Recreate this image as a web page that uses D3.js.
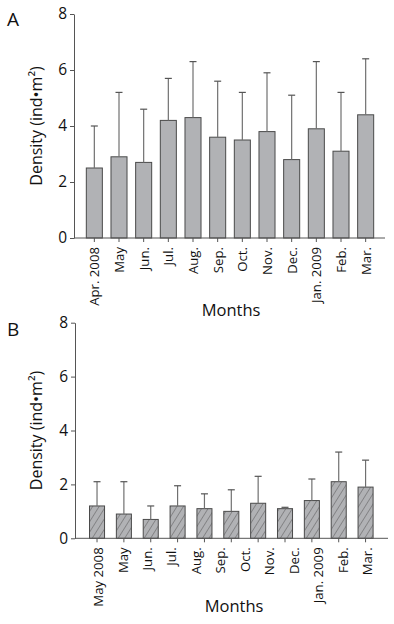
<!DOCTYPE html>
<html>
<head>
<meta charset="utf-8">
<script src="https://cdn.jsdelivr.net/npm/d3@7"></script>
<style>
  body { margin: 0; background: #fff; }
  svg text { font-family: "Open Sans", "Noto Sans", sans-serif; fill: #111; }
</style>
</head>
<body>
<svg id="chart" width="394" height="624"></svg>
<script>
'use strict';

// panel A: Apr. 2008 - Mar. 2009
const monthsA = ["Apr. 2008", "May", "Jun.", "Jul.", "Aug.", "Sep.", "Oct.", "Nov.", "Dec.", "Jan. 2009", "Feb.", "Mar."];
const meanA = [2.5, 2.9, 2.7, 4.2, 4.3, 3.6, 3.5, 3.8, 2.8, 3.9, 3.1, 4.4];
const upperA = [4.0, 5.2, 4.6, 5.7, 6.3, 5.6, 5.2, 5.9, 5.1, 6.3, 5.2, 6.4];

// panel B: 11 bars drawn under 12 month labels (as in the original figure)
const monthsB = ["May 2008", "May", "Jun.", "Jul.", "Aug.", "Sep.", "Oct.", "Nov.", "Dec.", "Jan. 2009", "Feb.", "Mar."];
const meanB = [1.2, 0.9, 0.7, 1.2, 1.1, 1.0, 1.3, 1.1, 1.4, 2.1, 1.9];
const upperB = [2.1, 2.1, 1.2, 1.95, 1.65, 1.8, 2.3, 1.15, 2.2, 3.2, 2.9];

const yTicks = [0, 2, 4, 6, 8];

(function () {
    const svg = d3.select("#chart");

    // hatch pattern for panel B
    const defs = svg.append("defs");
    const pat = defs.append("pattern")
        .attr("id", "hatch")
        .attr("patternUnits", "userSpaceOnUse")
        .attr("width", 5.5)
        .attr("height", 6)
        .attr("patternTransform", "rotate(32)");
    pat.append("rect").attr("width", 5.5).attr("height", 6).attr("fill", "#b1b2b5");
    pat.append("line")
        .attr("x1", 0).attr("y1", 0).attr("x2", 0).attr("y2", 6)
        .attr("stroke", "#5a5a5a").attr("stroke-width", 1);

    function panel(opt) {
        const g = svg.append("g");
        const y = d3.scaleLinear().domain([0, 8]).range([opt.y0, opt.y8]);
        const n = opt.mean.length;
        const x = d3.scaleBand()
            .domain(d3.range(n))
            .range([opt.x0, opt.x1])
            .paddingInner(opt.pad)
            .paddingOuter(opt.pad / 2);

        // y axis
        const yAxis = g.append("g")
            .attr("transform", `translate(${opt.axisX},0)`)
            .call(d3.axisLeft(y).tickValues(yTicks).tickSize(4).tickSizeOuter(0).tickFormat(d3.format("d")));
        yAxis.select(".domain").attr("stroke", "#555");
        yAxis.selectAll(".tick line").attr("stroke", "#555");
        yAxis.selectAll(".tick text").attr("font-size", 15.5).attr("x", -7).attr("fill", "#111");

        // bars
        g.selectAll(".bar")
            .data(opt.mean)
            .enter()
            .append("rect")
                .attr("class", "bar")
                .attr("x", (d, i) => x(i))
                .attr("y", d => y(d))
                .attr("width", x.bandwidth())
                .attr("height", d => y(0) - y(d))
                .attr("fill", opt.fill)
                .attr("stroke", "#4a4a4a")
                .attr("stroke-width", 1);

        // error bars (upper only)
        const cx = i => x(i) + x.bandwidth() / 2;
        g.selectAll(".err")
            .data(opt.upper)
            .enter()
            .append("line")
                .attr("x1", (d, i) => cx(i))
                .attr("x2", (d, i) => cx(i))
                .attr("y1", (d, i) => y(opt.mean[i]))
                .attr("y2", d => y(d))
                .attr("stroke", "#707070")
                .attr("stroke-width", 1.2);
        g.selectAll(".cap")
            .data(opt.upper)
            .enter()
            .append("line")
                .attr("x1", (d, i) => cx(i) - 3.5)
                .attr("x2", (d, i) => cx(i) + 3.5)
                .attr("y1", d => y(d))
                .attr("y2", d => y(d))
                .attr("stroke", "#555")
                .attr("stroke-width", 1.2);

        // x axis baseline
        g.append("line")
            .attr("x1", opt.axisX).attr("x2", opt.axisEnd)
            .attr("y1", y(0)).attr("y2", y(0))
            .attr("stroke", "#555");

        // tick marks at bar centers
        const xTicks = g.append("g")
            .attr("transform", `translate(0,${y(0)})`)
            .call(d3.axisBottom(x).tickSize(4).tickSizeOuter(0).tickFormat(""));
        xTicks.select(".domain").remove();
        xTicks.selectAll(".tick line").attr("stroke", "#555");

        // month labels
        const lab = d3.scalePoint().domain(opt.labels).range([opt.l0, opt.l1]);
        const xLab = g.append("g")
            .attr("transform", `translate(0,${y(0)})`)
            .call(d3.axisBottom(lab).tickSize(0));
        xLab.select(".domain").remove();
        xLab.selectAll(".tick text")
            .attr("font-size", 13.2)
            .attr("fill", "#111")
            .attr("transform", "rotate(-90)")
            .attr("text-anchor", "end")
            .attr("dy", "0.35em")
            .attr("x", -9)
            .attr("y", 0);

        // titles
        g.append("text")
            .attr("transform", `translate(${opt.titleX},${(y(0) + y(8)) / 2}) rotate(-90)`)
            .attr("text-anchor", "middle")
            .attr("font-size", 16)
            .text("Density (ind•m²)");
        g.append("text")
            .attr("x", opt.monthsX)
            .attr("y", opt.monthsY)
            .attr("text-anchor", "middle")
            .attr("font-size", 16.5)
            .text("Months");
        g.append("text")
            .attr("x", 7)
            .attr("y", opt.letterY)
            .attr("font-size", 19)
            .text(opt.letter);
    }

    panel({
        letter: "A", letterY: 26,
        mean: meanA, upper: upperA, labels: monthsA,
        y0: 238, y8: 14, axisX: 74, axisEnd: 385,
        x0: 82, x1: 378, pad: 0.35,
        l0: 94.3, l1: 365.7,
        titleX: 42, monthsX: 231, monthsY: 316,
        fill: "#b1b2b5"
    });

    panel({
        letter: "B", letterY: 336,
        mean: meanB, upper: upperB, labels: monthsB,
        y0: 538.3, y8: 322.7, axisX: 75, axisEnd: 388,
        x0: 83.6, x1: 379, pad: 0.44,
        l0: 98, l1: 367,
        titleX: 42, monthsX: 234, monthsY: 612,
        fill: "url(#hatch)"
    });
})();
</script>
</body>
</html>
